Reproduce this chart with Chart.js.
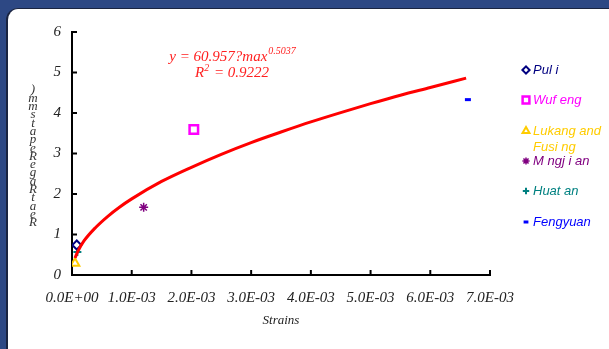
<!DOCTYPE html>
<html>
<head>
<meta charset="utf-8">
<script src="https://cdn.jsdelivr.net/npm/chart.js@4.4.1/dist/chart.umd.min.js"></script>
<style>
  html, body { margin: 0; padding: 0; }
  body { width: 609px; height: 349px; background: #2d4884; position: relative; overflow: hidden; }
  #panel { position: absolute; left: 6px; top: 8px; width: 620px; height: 360px; background: #fff;
           border-radius: 12px 0 0 0; border-left: 2px solid #1a2440; border-top: 1px solid #1a2440; }
  #wrap { position: absolute; left: 0; top: 0; width: 609px; height: 349px; }
</style>
</head>
<body>
<div id="panel"></div>
<div id="wrap"><canvas id="myChart" width="609" height="349"></canvas></div>
<script>
// station names as shown in the legend
const stations = ['Pul i', 'Wuf eng', 'Lukang and\nFusi ng', 'M ngj i an', 'Huat an', 'Fengyuan']
const stationColors = ['#000080', '#ff00ff', '#ffcc00', '#800080', '#008080', '#0000ff']
const stationMarkers = ['rectRot', 'rect', 'triangle', 'star', 'cross', 'line']

// measured points (strain, rate)
const strainValues = [0.00008, 0.00204, 0.00005, 0.00120, 0.00009, 0.00663]
const rateValues = [0.74, 3.59, 0.29, 1.67, 0.57, 4.33]

// power trendline
const trendStrain = [0.00005, 0.0001, 0.0002, 0.0004, 0.0006, 0.0008, 0.001, 0.0015, 0.002, 0.0025, 0.003, 0.0035, 0.004, 0.0045, 0.005, 0.0055, 0.006, 0.0066]
const trendRate = [0.42, 0.59, 0.84, 1.18, 1.45, 1.68, 1.88, 2.31, 2.66, 2.98, 3.27, 3.53, 3.78, 4.01, 4.23, 4.44, 4.63, 4.86]

const xTickLabels = ['0.0E+00', '1.0E-03', '2.0E-03', '3.0E-03', '4.0E-03', '5.0E-03', '6.0E-03', '7.0E-03']
const yTickLabels = ['0', '1', '2', '3', '4', '5', '6']

const yTitleChars = [')', 'm', 'm', 's', 't', 'a', 'p', 'e', 'R', 'e', 'g', 'a', 'R', 't', 'a', 'e', 'R']

const serif = '"Liberation Serif", "Times New Roman", serif'
const sans = '"Liberation Sans", Arial, sans-serif'

const markerRadius = { rectRot: 4.5, rect: 6, triangle: 5, star: 4.5, cross: 4, line: 3 }
const markerWidth = { rectRot: 2, rect: 2.5, triangle: 2, star: 1.5, cross: 2, line: 3 }

const datasets = [{
    label: 'trend',
    data: trendStrain.map((x, i) => ({ x: x, y: trendRate[i] })),
    showLine: true,
    borderColor: '#ff0000',
    borderWidth: 3,
    pointRadius: 0,
    cubicInterpolationMode: 'monotone',
    order: 0
}]
stations.forEach((name, i) => {
    const m = stationMarkers[i]
    datasets.push({
        label: name,
        data: [{ x: strainValues[i], y: rateValues[i] }],
        pointStyle: m,
        pointRadius: markerRadius[m],
        borderColor: stationColors[i],
        backgroundColor: '#ffffff',
        pointBorderWidth: markerWidth[m],
        order: 1
    })
})

// tick marks pointing into the plot, axis title, equation and legend
const extras = {
    id: 'extras',
    afterDraw(chart) {
        const ctx = chart.ctx
        const xs = chart.scales.x
        const ys = chart.scales.y
        ctx.save()
        ctx.strokeStyle = '#000'
        ctx.lineWidth = 2
        xTickLabels.forEach((t, i) => {
            const px = xs.getPixelForValue(i * 0.001)
            ctx.beginPath(); ctx.moveTo(px, ys.bottom); ctx.lineTo(px, ys.bottom - 5); ctx.stroke()
        })
        yTickLabels.forEach((t, i) => {
            const py = ys.getPixelForValue(i)
            ctx.beginPath(); ctx.moveTo(xs.left, py); ctx.lineTo(xs.left + 5, py); ctx.stroke()
        })

        // y title (stacked glyphs)
        ctx.fillStyle = '#333'
        ctx.font = 'italic 13px ' + serif
        ctx.textAlign = 'center'
        ctx.textBaseline = 'middle'
        yTitleChars.forEach((c, i) => {
            ctx.fillText(c, 33, 90 + i * 8.3)
        })

        // equation
        const ex = xs.getPixelForValue(0.00268)
        const ey = ys.getPixelForValue(5.42) + 2
        ctx.fillStyle = '#ff2020'
        ctx.textAlign = 'left'
        const main = 'y = 60.957?max'
        ctx.font = 'italic 15px ' + serif
        const w1 = ctx.measureText(main).width
        ctx.font = 'italic 10px ' + serif
        const w2 = ctx.measureText('0.5037').width
        let sx = ex - (w1 + w2) / 2
        ctx.font = 'italic 15px ' + serif
        ctx.fillText(main, sx, ey)
        ctx.font = 'italic 10px ' + serif
        ctx.fillText('0.5037', sx + w1 + 1, ey - 6)
        ctx.font = 'italic 15px ' + serif
        const r1 = 'R', r2 = ' = 0.9222'
        const rw = ctx.measureText(r1 + r2).width + 6
        let rx = ex - rw / 2
        ctx.fillText(r1, rx, ey + 16)
        const rw1 = ctx.measureText(r1).width
        ctx.font = 'italic 10px ' + serif
        ctx.fillText('2', rx + rw1, ey + 11)
        ctx.font = 'italic 15px ' + serif
        ctx.fillText(r2, rx + rw1 + 6, ey + 16)

        // legend
        const legY = [70, 100, 131, 161, 191, 222]
        ctx.font = 'italic 13px ' + sans
        ctx.textBaseline = 'middle'
        stations.forEach((name, i) => {
            const m = stationMarkers[i]
            ctx.strokeStyle = stationColors[i]
            ctx.fillStyle = '#fff'
            ctx.lineWidth = markerWidth[m]
            Chart.helpers.drawPoint(ctx, { pointStyle: m, radius: markerRadius[m] * 0.8, borderWidth: markerWidth[m], rotation: 0 }, 526, legY[i])
            ctx.fillStyle = stationColors[i]
            name.split('\n').forEach((line, j) => {
                ctx.fillText(line, 533, legY[i] + j * 16)
            })
        })
        ctx.restore()
    }
}

const ctx = document.getElementById('myChart').getContext('2d')
const chart = new Chart(ctx, {
    type: 'scatter',
    data: { datasets: datasets },
    options: {
        responsive: false,
        animation: false,
        layout: { padding: { left: 0, right: 119, top: 32, bottom: 17 } },
        plugins: { legend: { display: false }, tooltip: { enabled: false } },
        scales: {
            x: {
                type: 'linear',
                min: 0, max: 0.007,
                afterBuildTicks: s => { s.ticks = xTickLabels.map((t, i) => ({ value: i * 0.001 })) },
                afterFit: s => { s.height = 57 },
                grid: { display: false },
                border: { display: true, color: '#000', width: 2 },
                ticks: {
                    padding: 6,
                    color: '#222',
                    font: { family: serif, size: 15, style: 'italic' },
                    maxRotation: 0,
                    callback: (v, i) => xTickLabels[i]
                },
                title: {
                    display: true, text: 'Strains', color: '#222',
                    font: { family: serif, size: 13, style: 'italic' },
                    padding: { top: 6, bottom: 4 }
                }
            },
            y: {
                min: 0, max: 6,
                afterBuildTicks: s => { s.ticks = yTickLabels.map((t, i) => ({ value: i })) },
                afterFit: s => { s.width = 72 },
                grid: { display: false },
                border: { display: true, color: '#000', width: 2 },
                ticks: {
                    padding: 3,
                    color: '#222',
                    font: { family: serif, size: 15, style: 'italic' },
                    callback: (v, i) => yTickLabels[i]
                }
            }
        }
    },
    plugins: [extras]
})
</script>
</body>
</html>
